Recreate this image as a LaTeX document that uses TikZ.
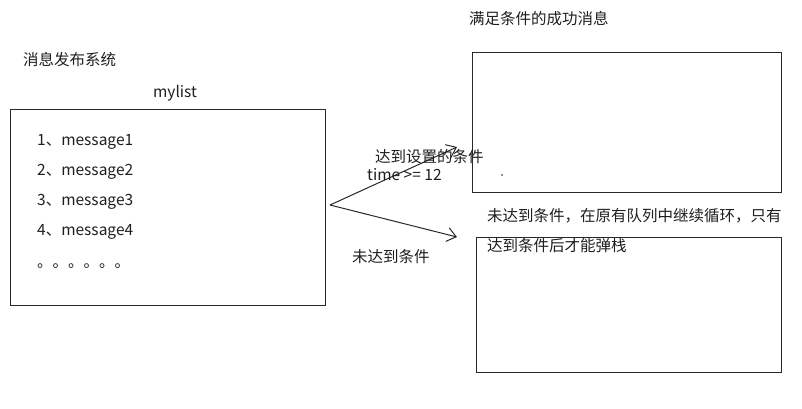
\documentclass[tikz,border=0pt]{standalone}
\usepackage{fontspec}
\usepackage{tikz}
\usetikzlibrary{arrows.meta,positioning}
\setmainfont{Noto Sans CJK SC}
\definecolor{boxGray}{RGB}{40,40,40}
\definecolor{txtGray}{RGB}{30,30,30}

\begin{document}
\begin{tikzpicture}[x=1pt,y=-1pt,
    boxline/.style={draw=boxGray, line width=1pt},
    lbl/.style={text=txtGray, inner sep=0pt, anchor=west, font=\fontsize{15.5pt}{18pt}\selectfont},
    flow/.style={draw=boxGray, line width=1pt, -{Straight Barb[length=9pt,width=14pt,line width=1pt]}}]

    \useasboundingbox (0,0) rectangle (802,409);

    % =========================
    % Left: publisher with its list
    % =========================
    \node[lbl] (pubTitle) at (23,60) {消息发布系统};
    \node[lbl, anchor=center] (listName) at (175,93) {mylist};
    \draw[boxline] (10,110) rectangle (325,305);
    \coordinate (listBox) at (325,205);

    % list items
    \foreach \i/\yy in {1/142,2/172,3/202,4/232}
        \node[lbl] (msg\i) at (37,\yy) {\i、message\i};
    \node[lbl] (msgMore) at (37,266) {。。。。。。};

    % =========================
    % Right: the two target boxes
    % =========================
    \node[lbl] (okTitle) at (469,19) {满足条件的成功消息};
    \draw[boxline] (472,53) rectangle (781,192);
    \fill[boxGray] (502,175) circle (0.9pt);

    \node[lbl] (waitNote) at (487,216) {未达到条件，在原有队列中继续循环，只有};
    \draw[boxline] (476,237) rectangle (781,372);
    \node[lbl] (waitNote2) at (487,246) {达到条件后才能弹栈};

    % =========================
    % Connectors
    % =========================
    \coordinate (fork) at (330,205);
    \coordinate (okTip) at (457,147);
    \coordinate (waitTip) at (457,237);
    \draw[flow] (fork) -- (okTip);
    \draw[flow] (fork) -- (waitTip);

    % labels
    \node[lbl] (okCond) at (375,157) {达到设置的条件};
    \node[lbl] (okRule) at (367,175) {time >= 12};
    \node[lbl] (waitCond) at (352,257) {未达到条件};

\end{tikzpicture}
\end{document}
